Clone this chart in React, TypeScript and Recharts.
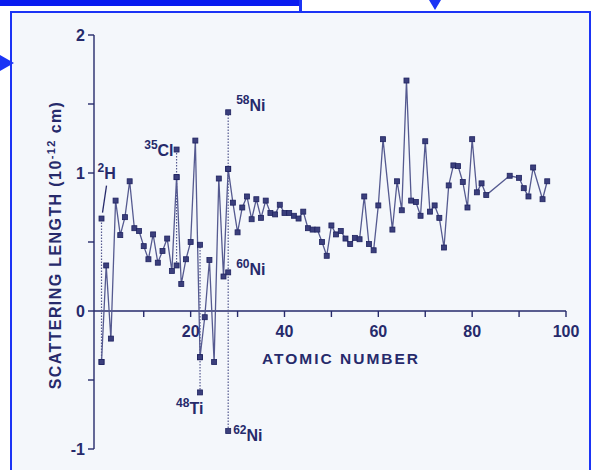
import { ComposedChart, Line, XAxis, YAxis, ReferenceLine, Label } from 'recharts';

// natural elements: atomic number and coherent scattering length (10^-12 cm)
const atomicNumbers = [
  1, 2, 3, 4, 5, 6, 7, 8, 9, 10, 11, 12, 13, 14, 15, 16, 17, 18, 19, 20,
  21, 22, 23, 24, 25, 26, 27, 28, 29, 30, 31, 32, 33, 34, 35, 36, 37, 38, 39, 40,
  41, 42, 43, 44, 45, 46, 47, 48, 49, 50, 51, 52, 53, 54, 55, 56, 57, 58, 59, 60,
  61, 63, 64, 65, 66, 67, 68, 69, 70, 71, 72, 73, 74, 75, 76, 77, 78, 79, 80,
  81, 82, 83, 88, 90, 91, 92, 93, 95, 96,
];
const scatteringLengths = [
  -0.37, 0.33, -0.2, 0.8, 0.55, 0.68, 0.94, 0.6, 0.58, 0.47, 0.375, 0.555, 0.35, 0.435, 0.525, 0.29, 0.97, 0.195, 0.375, 0.5,
  1.235, -0.335, -0.045, 0.37, -0.37, 0.96, 0.25, 1.03, 0.785, 0.57, 0.75, 0.83, 0.665, 0.81, 0.675, 0.8, 0.71, 0.7, 0.77, 0.71,
  0.71, 0.69, 0.67, 0.72, 0.6, 0.59, 0.59, 0.5, 0.4, 0.62, 0.555, 0.58, 0.525, 0.485, 0.53, 0.52, 0.83, 0.485, 0.44, 0.765,
  1.245, 0.59, 0.94, 0.73, 1.67, 0.8, 0.79, 0.69, 1.23, 0.72, 0.765, 0.675, 0.46, 0.91, 1.055, 1.05, 0.935, 0.75, 1.245,
  0.86, 0.925, 0.84, 0.98, 0.965, 0.89, 0.83, 1.04, 0.81, 0.94,
];

// separate isotopes, drawn on a dotted line through the element
const isotopeZ = [1, 17, 17, 22, 22, 28, 28, 28];
const isotopeValues = [0.67, 1.17, 0.33, 0.48, -0.59, 1.44, 0.28, -0.87];
const isotopeMass = ['2', '35', '', '', '48', '58', '60', '62'];
const isotopeSymbol = ['H', 'Cl', '', '', 'Ti', 'Ni', 'Ni', 'Ni'];

const xTicks = [10, 20, 30, 40, 50, 60, 70, 80, 90, 100];
const yTicks = [-1, -0.5, 0, 0.5, 1, 1.5, 2];

const W = 594;
const H = 470;
const Y_AXIS_W = 40;
const X_AXIS_H = 20;
const M = { top: 35, right: 28, bottom: 1, left: 94 - Y_AXIS_W };
const Y_MIN = -1;
const Y_MAX = 2;
const PLOT_H = H - M.top - M.bottom - X_AXIS_H;
const ZERO_FROM_BOTTOM = (PLOT_H * (0 - Y_MIN)) / (Y_MAX - Y_MIN);

const INK = '#262a6b';
const LINE = '#555a90';
const FONT = '"Liberation Sans", Arial, Helvetica, sans-serif';

const labelOffset: Record<string, { dx: number; dy: number; anchor?: 'start' | 'end' }> = {
  '2H': { dx: -4, dy: -40 },
  '35Cl': { dx: -3, dy: 6, anchor: 'end' },
  '58Ni': { dx: 8, dy: -1 },
  '60Ni': { dx: 8, dy: 3 },
  '48Ti': { dx: -24, dy: 22 },
  '62Ni': { dx: 5, dy: 10 },
};

const mainData = atomicNumbers.map((z, i) => ({ z, v: scatteringLengths[i] }));

const isotopeGroups = Array.from(new Set(isotopeZ)).map((z) => {
  const pts = isotopeZ
    .map((iz, i) => ({ z: iz, v: isotopeValues[i], mass: isotopeMass[i], sym: isotopeSymbol[i] }))
    .filter((p) => p.z === z);
  const nat = scatteringLengths[atomicNumbers.indexOf(z)];
  return [...pts, { z, v: nat, mass: '', sym: '' }].sort((a, b) => a.v - b.v);
});

function Square(props: any) {
  const { cx, cy, payload } = props;
  if (cx == null || cy == null) return <g />;
  const name = payload && payload.mass ? payload.mass + payload.sym : '';
  const off = labelOffset[name];
  return (
    <g>
      <rect x={cx - 2.5} y={cy - 2.5} width={5} height={5} fill="#3b3f7c" stroke="#1f2360" strokeWidth={0.8} />
      {off && (
        <text
          x={cx + off.dx}
          y={cy + off.dy}
          textAnchor={off.anchor || 'start'}
          fill={INK}
          fontFamily={FONT}
          fontWeight="bold"
        >
          <tspan fontSize={12} dy={-7}>{payload.mass}</tspan>
          <tspan fontSize={16} dy={7}>{payload.sym}</tspan>
        </text>
      )}
      {name === '2H' && <line x1={cx + 5} y1={cy - 33} x2={cx + 1} y2={cy - 6} stroke={INK} strokeWidth={1.3} />}
    </g>
  );
}

function XTick(props: any) {
  const { x, y, payload } = props;
  const y0 = y - ZERO_FROM_BOTTOM;
  return (
    <g>
      <line x1={x} x2={x} y1={y0} y2={y0 + 6} stroke={INK} strokeWidth={1.4} />
      {payload.value % 20 === 0 && (
        <text x={x} y={y0 + 26} textAnchor="middle" fill={INK} fontSize={16} fontWeight="bold" fontFamily={FONT}>
          {payload.value}
        </text>
      )}
    </g>
  );
}

function Frame() {
  return (
    <svg width={W} height={H} style={{ position: 'absolute', left: 0, top: 0 }}>
      <rect x={0} y={0} width={W} height={H} fill="#ffffff" />
      <rect x={11} y={12} width={579} height={470} fill="#f4f7fb" stroke="#1b34f5" strokeWidth={2} />
      <rect x={0} y={0} width={301} height={6} fill="#0a1cf0" />
      <rect x={299} y={0} width={3} height={12} fill="#1b34f5" />
      <polygon points="429,0 441,0 435,10" fill="#1b34f5" />
      <polygon points="0,55 14,63 0,71" fill="#1b34f5" />
    </svg>
  );
}

export default function App() {
  return (
    <div style={{ position: 'absolute', left: 0, top: 0, width: W, height: H, overflow: 'hidden' }}>
      <Frame />
      <div style={{ position: 'absolute', left: 0, top: 0 }}>
        <ComposedChart width={W} height={H} margin={M}>
          <XAxis
            type="number"
            dataKey="z"
            domain={[-0.6, 100]}
            ticks={xTicks}
            interval={0}
            height={X_AXIS_H}
            axisLine={false}
            tickLine={false}
            tickSize={0}
            tickMargin={0}
            tick={<XTick />}
            allowDataOverflow
          >
            <Label
              content={(p: any) => (
                <text
                  x={p.viewBox.x + 247}
                  y={p.viewBox.y - ZERO_FROM_BOTTOM + 53}
                  textAnchor="middle"
                  fill={INK}
                  fontSize={15.5}
                  fontWeight="bold"
                  letterSpacing={2}
                  fontFamily={FONT}
                >
                  ATOMIC NUMBER
                </text>
              )}
            />
          </XAxis>
          <YAxis
            type="number"
            domain={[Y_MIN, Y_MAX]}
            ticks={yTicks}
            interval={0}
            width={Y_AXIS_W}
            axisLine={{ stroke: INK, strokeWidth: 1.4 }}
            tickLine={{ stroke: INK, strokeWidth: 1.4 }}
            tickSize={6}
            tickMargin={3}
            tick={{ fill: INK, fontSize: 16, fontWeight: 'bold', fontFamily: FONT }}
            tickFormatter={(v: number) => (Number.isInteger(v) ? String(v) : '')}
          >
            <Label
              content={(p: any) => (
                <text
                  transform={`translate(${p.viewBox.x + p.viewBox.width - 33}, ${p.viewBox.y + 210}) rotate(-90)`}
                  textAnchor="middle"
                  fill={INK}
                  fontSize={16}
                  fontWeight="bold"
                  letterSpacing={1.4}
                  fontFamily={FONT}
                >
                  SCATTERING LENGTH (10
                  <tspan fontSize={11} dy={-6}>-12</tspan>
                  <tspan dy={6}> cm)</tspan>
                </text>
              )}
            />
          </YAxis>
          <ReferenceLine y={0} stroke={INK} strokeWidth={1.4} />
          {isotopeGroups.map((g, i) => (
            <Line
              key={'iso' + i}
              data={g}
              dataKey="v"
              type="linear"
              stroke={LINE}
              strokeWidth={1.2}
              strokeDasharray="1.5 1.5"
              dot={<Square />}
              isAnimationActive={false}
            />
          ))}
          <Line
            data={mainData}
            dataKey="v"
            type="linear"
            stroke={LINE}
            strokeWidth={1.3}
            dot={<Square />}
            isAnimationActive={false}
          />
        </ComposedChart>
      </div>
    </div>
  );
}
